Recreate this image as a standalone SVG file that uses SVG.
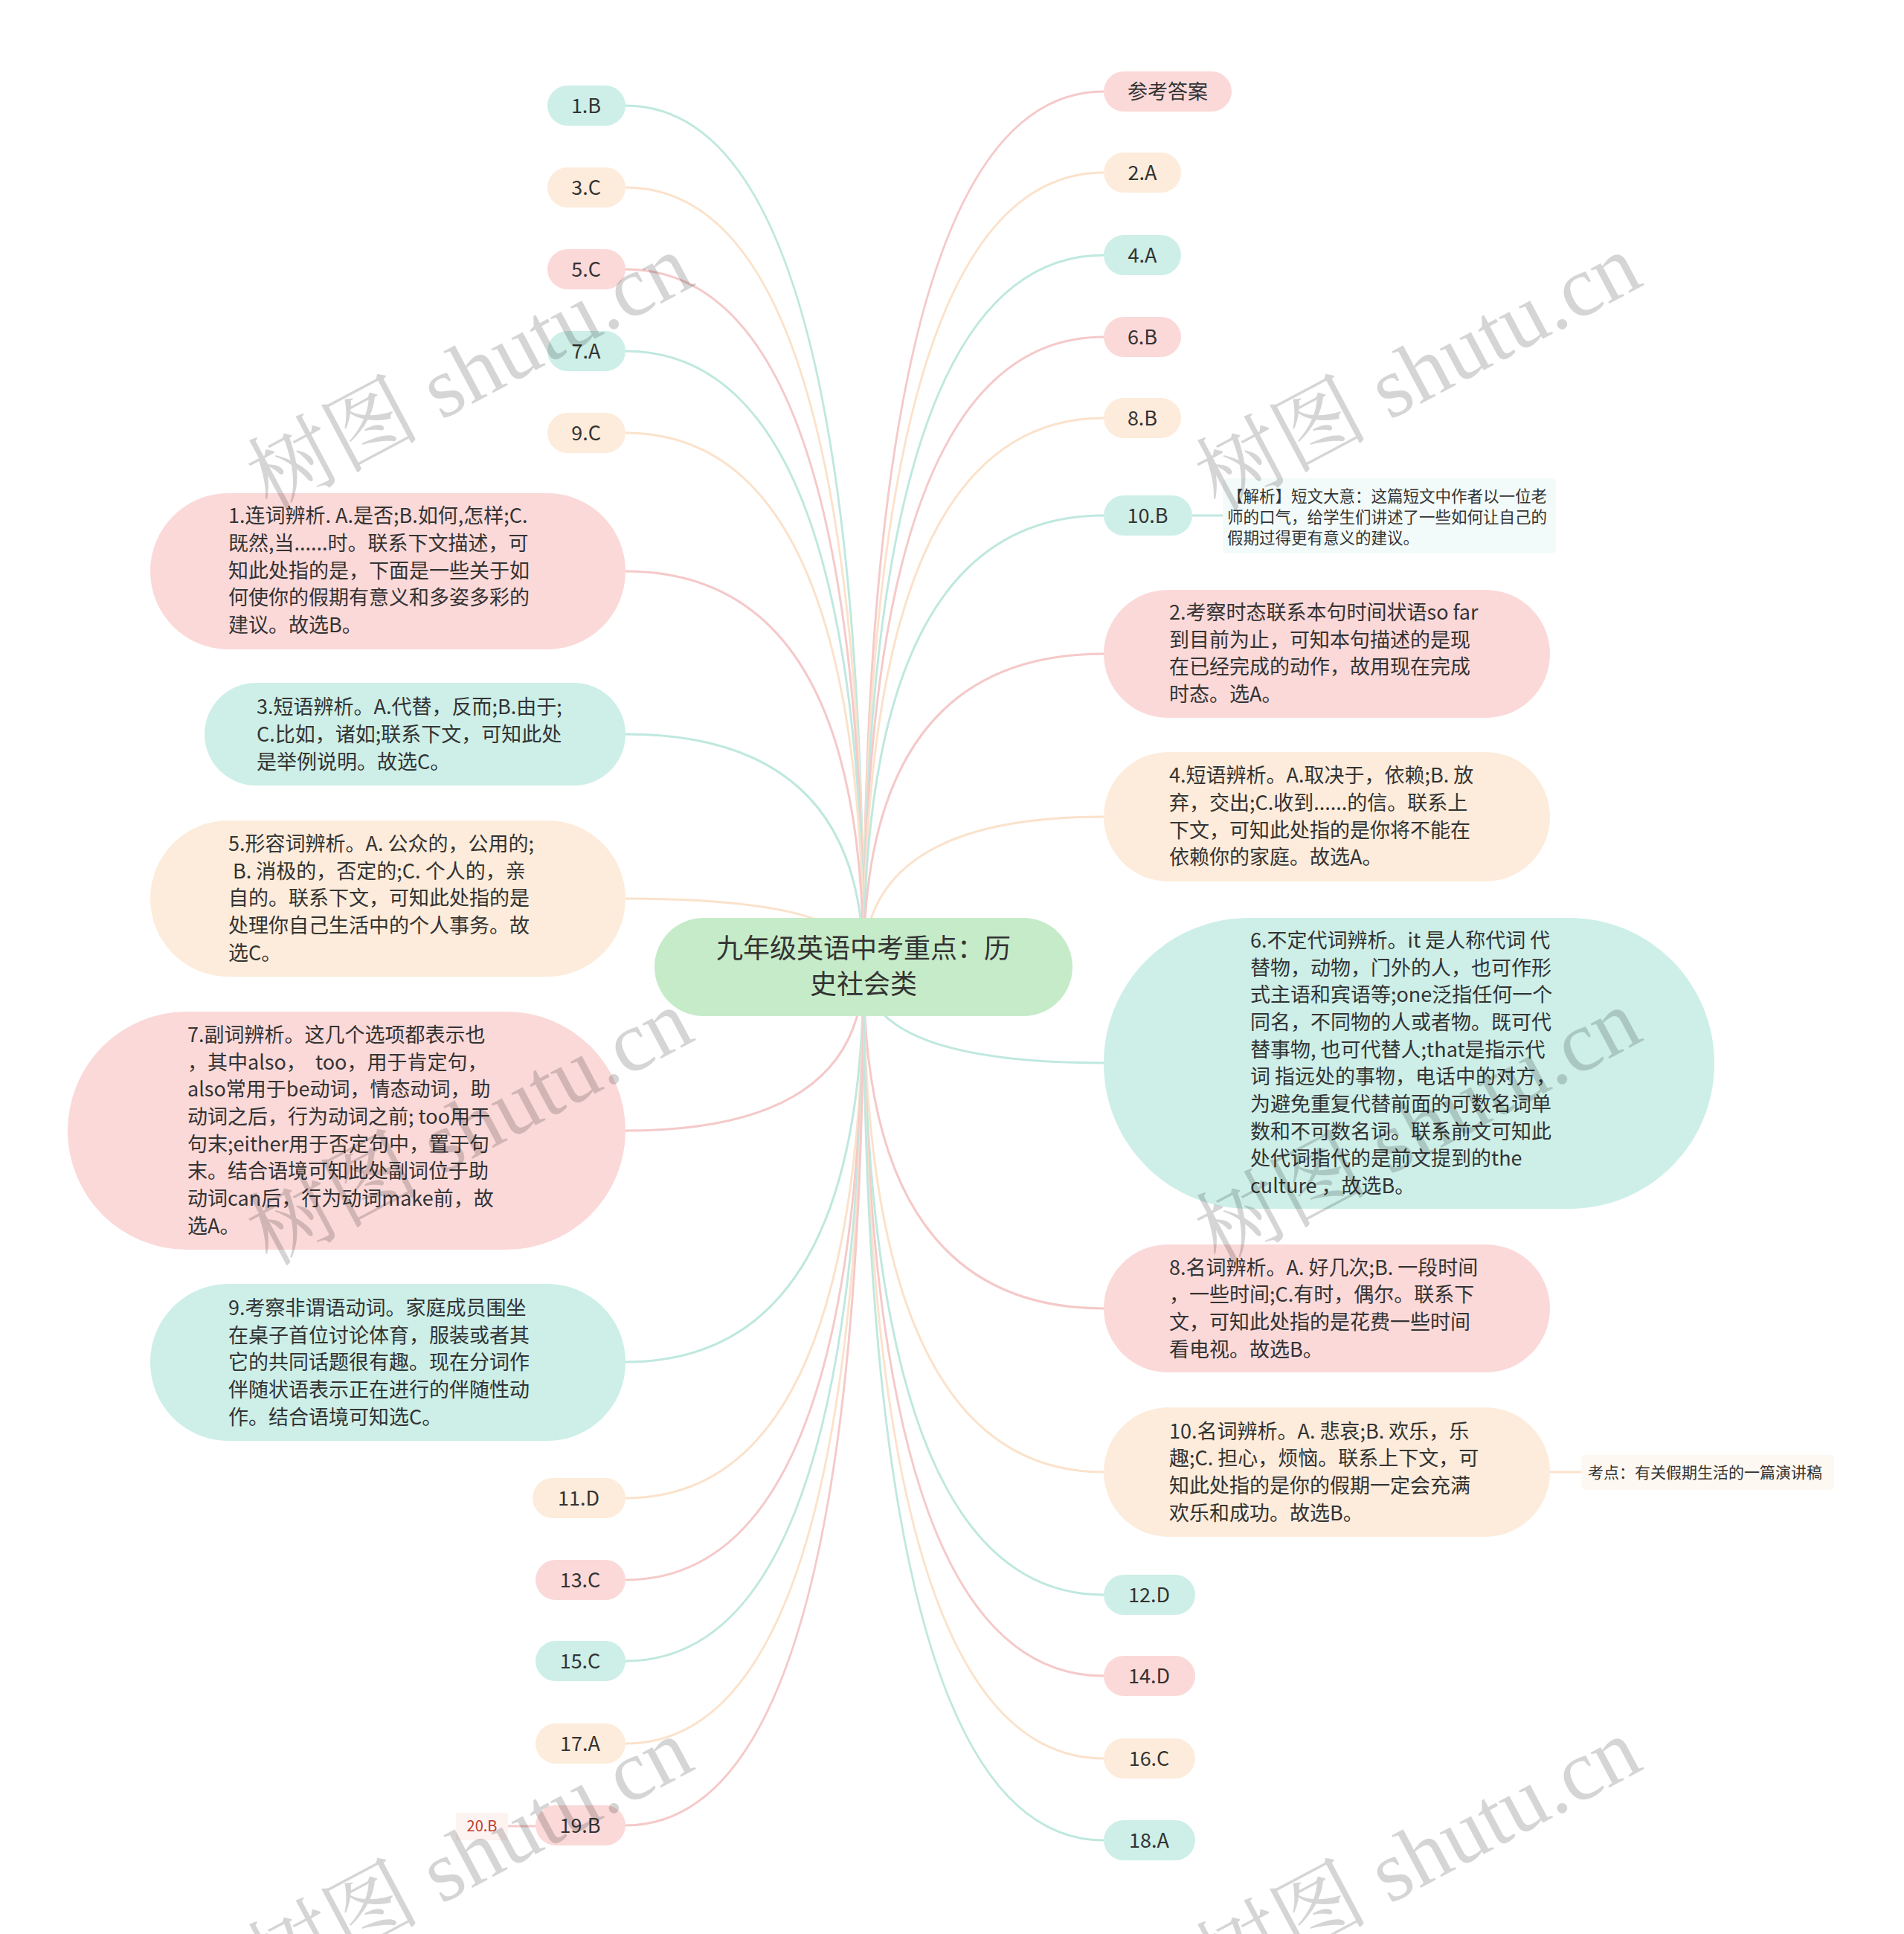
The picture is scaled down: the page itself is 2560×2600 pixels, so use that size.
<svg xmlns="http://www.w3.org/2000/svg" width="2560" height="2600" viewBox="0 0 2560 2600">
<style>
text{font-family:"Noto Sans CJK SC","Microsoft YaHei","Noto Sans",sans-serif;fill:#333;white-space:pre}
.t{font-size:27px}
.c{text-anchor:middle}
.pk{fill:#fbd9d9}.tl{fill:#cdefe8}.pc{fill:#fdecdb}
.lpk{stroke:#f5c9c9}.ltl{stroke:#bfe8df}.lpc{stroke:#fbe2cb}
#connectors path{fill:none;stroke-width:3}
.wm{font-family:"Liberation Serif","Noto Serif CJK SC",serif;font-size:116px;fill:#000;opacity:0.16;text-anchor:middle}
</style>
<rect width="2560" height="2600" fill="#ffffff"/>
<g id="connectors">
<path class="ltl" d="M1161 1300 Q1161 142 841 142"/>
<path class="lpc" d="M1161 1300 Q1161 252 841 252"/>
<path class="lpk" d="M1161 1300 Q1161 362 841 362"/>
<path class="ltl" d="M1161 1300 Q1161 472 841 472"/>
<path class="lpc" d="M1161 1300 Q1161 582 841 582"/>
<path class="lpk" d="M1161 1300 Q1161 768 841 768"/>
<path class="ltl" d="M1161 1300 Q1161 987 841 987"/>
<path class="lpc" d="M1161 1300 Q1161 1208 841 1208"/>
<path class="lpk" d="M1161 1300 Q1161 1520 841 1520"/>
<path class="ltl" d="M1161 1300 Q1161 1831 841 1831"/>
<path class="lpc" d="M1161 1300 Q1161 2014 841 2014"/>
<path class="lpk" d="M1161 1300 Q1161 2124 841 2124"/>
<path class="ltl" d="M1161 1300 Q1161 2233 841 2233"/>
<path class="lpc" d="M1161 1300 Q1161 2344 841 2344"/>
<path class="lpk" d="M1161 1300 Q1161 2454 841 2454"/>
<path class="lpk" d="M1161 1300 Q1161 123 1484 123"/>
<path class="lpc" d="M1161 1300 Q1161 232 1484 232"/>
<path class="ltl" d="M1161 1300 Q1161 343 1484 343"/>
<path class="lpk" d="M1161 1300 Q1161 453 1484 453"/>
<path class="lpc" d="M1161 1300 Q1161 562 1484 562"/>
<path class="ltl" d="M1161 1300 Q1161 693 1484 693"/>
<path class="lpk" d="M1161 1300 Q1161 879 1484 879"/>
<path class="lpc" d="M1161 1300 Q1161 1098 1484 1098"/>
<path class="ltl" d="M1161 1300 Q1161 1429 1484 1429"/>
<path class="lpk" d="M1161 1300 Q1161 1759 1484 1759"/>
<path class="lpc" d="M1161 1300 Q1161 1979 1484 1979"/>
<path class="ltl" d="M1161 1300 Q1161 2144 1484 2144"/>
<path class="lpk" d="M1161 1300 Q1161 2253 1484 2253"/>
<path class="lpc" d="M1161 1300 Q1161 2364 1484 2364"/>
<path class="ltl" d="M1161 1300 Q1161 2474 1484 2474"/>
<path class="ltl" d="M1603 693 L1644 693"/>
<path class="lpc" d="M2084 1979 L2126 1979"/>
<path class="lpk" d="M683 2455 L720 2455"/>
</g>

<g id="center">
<rect x="880" y="1234" width="562" height="132" rx="66" fill="#c6ebc9"/>
<text x="1161" y="1288" font-size="36" class="c">九年级英语中考重点：历</text>
<text x="1161" y="1336" font-size="36" class="c">史社会类</text>
</g>

<g id="n1B"><rect class="tl" x="736" y="115" width="105" height="54" rx="27"/><text class="t c" x="788" y="152">1.B</text></g>
<g id="n3C"><rect class="pc" x="736" y="225" width="105" height="54" rx="27"/><text class="t c" x="788" y="262">3.C</text></g>
<g id="n5C"><rect class="pk" x="736" y="335" width="105" height="54" rx="27"/><text class="t c" x="788" y="372">5.C</text></g>
<g id="n7A"><rect class="tl" x="736" y="445" width="105" height="54" rx="27"/><text class="t c" x="788" y="482">7.A</text></g>
<g id="n9C"><rect class="pc" x="736" y="555" width="105" height="54" rx="27"/><text class="t c" x="788" y="592">9.C</text></g>

<g id="e1">
<rect class="pk" x="202" y="663" width="639" height="210" rx="105"/>
<text class="t" x="307" y="703">1.连词辨析. A.是否;B.如何,怎样;C.</text>
<text class="t" x="307" y="740">既然,当......时。联系下文描述，可</text>
<text class="t" x="307" y="777">知此处指的是，下面是一些关于如</text>
<text class="t" x="307" y="813">何使你的假期有意义和多姿多彩的</text>
<text class="t" x="307" y="850">建议。故选B。</text>
</g>
<g id="e3">
<rect class="tl" x="275" y="918" width="566" height="138" rx="69"/>
<text class="t" x="345" y="960">3.短语辨析。A.代替，反而;B.由于;</text>
<text class="t" x="345" y="997">C.比如，诸如;联系下文，可知此处</text>
<text class="t" x="345" y="1034">是举例说明。故选C。</text>
</g>
<g id="e5">
<rect class="pc" x="202" y="1103" width="639" height="210" rx="105"/>
<text class="t" x="307" y="1144">5.形容词辨析。A. 公众的，公用的;</text>
<text class="t" x="307" y="1181"> B. 消极的，否定的;C. 个人的，亲</text>
<text class="t" x="307" y="1217">自的。联系下文，可知此处指的是</text>
<text class="t" x="307" y="1254">处理你自己生活中的个人事务。故</text>
<text class="t" x="307" y="1291">选C。</text>
</g>
<g id="e7">
<rect class="pk" x="91" y="1360" width="750" height="320" rx="160"/>
<text class="t" x="252" y="1401">7.副词辨析。这几个选项都表示也</text>
<text class="t" x="252" y="1438">，其中also，  too，用于肯定句，</text>
<text class="t" x="252" y="1474">also常用于be动词，情态动词，助</text>
<text class="t" x="252" y="1511">动词之后，行为动词之前; too用于</text>
<text class="t" x="252" y="1548">句末;either用于否定句中，置于句</text>
<text class="t" x="252" y="1584">末。结合语境可知此处副词位于助</text>
<text class="t" x="252" y="1621">动词can后，行为动词make前，故</text>
<text class="t" x="252" y="1658">选A。</text>
</g>
<g id="e9">
<rect class="tl" x="202" y="1726" width="639" height="211" rx="105"/>
<text class="t" x="307" y="1768">9.考察非谓语动词。家庭成员围坐</text>
<text class="t" x="307" y="1805">在桌子首位讨论体育，服装或者其</text>
<text class="t" x="307" y="1841">它的共同话题很有趣。现在分词作</text>
<text class="t" x="307" y="1878">伴随状语表示正在进行的伴随性动</text>
<text class="t" x="307" y="1915">作。结合语境可知选C。</text>
</g>

<g id="n11D"><rect class="pc" x="716" y="1987" width="125" height="54" rx="27"/><text class="t c" x="778" y="2024">11.D</text></g>
<g id="n13C"><rect class="pk" x="720" y="2097" width="121" height="54" rx="27"/><text class="t c" x="780" y="2134">13.C</text></g>
<g id="n15C"><rect class="tl" x="720" y="2206" width="121" height="54" rx="27"/><text class="t c" x="780" y="2243">15.C</text></g>
<g id="n17A"><rect class="pc" x="720" y="2317" width="121" height="54" rx="27"/><text class="t c" x="780" y="2354">17.A</text></g>
<g id="n19B"><rect class="pk" x="720" y="2427" width="121" height="54" rx="27"/><text class="t c" x="780" y="2464">19.B</text></g>
<g id="n20B"><rect x="613" y="2437" width="70" height="37" rx="4" fill="#fdf3f1"/><text x="648" y="2462" font-size="20" class="c" style="fill:#c0392b">20.B</text></g>

<g id="nAns"><rect class="pk" x="1484" y="96" width="172" height="54" rx="27"/><text class="t c" x="1570" y="133">参考答案</text></g>
<g id="n2A"><rect class="pc" x="1484" y="205" width="104" height="54" rx="27"/><text class="t c" x="1536" y="242">2.A</text></g>
<g id="n4A"><rect class="tl" x="1484" y="316" width="104" height="54" rx="27"/><text class="t c" x="1536" y="353">4.A</text></g>
<g id="n6B"><rect class="pk" x="1484" y="426" width="104" height="54" rx="27"/><text class="t c" x="1536" y="463">6.B</text></g>
<g id="n8B"><rect class="pc" x="1484" y="535" width="104" height="54" rx="27"/><text class="t c" x="1536" y="572">8.B</text></g>
<g id="n10B"><rect class="tl" x="1484" y="666" width="119" height="54" rx="27"/><text class="t c" x="1543" y="703">10.B</text></g>
<g id="a10B">
<rect x="1644" y="643" width="448" height="101" rx="6" fill="#f2fbf9"/>
<text x="1650" y="675" font-size="21.5">【解析】短文大意：这篇短文中作者以一位老</text>
<text x="1650" y="703" font-size="21.5">师的口气，给学生们讲述了一些如何让自己的</text>
<text x="1650" y="731" font-size="21.5">假期过得更有意义的建议。</text>
</g>

<g id="e2">
<rect class="pk" x="1484" y="793" width="600" height="172" rx="86"/>
<text class="t" x="1572" y="833">2.考察时态联系本句时间状语so far</text>
<text class="t" x="1572" y="870">到目前为止，可知本句描述的是现</text>
<text class="t" x="1572" y="906">在已经完成的动作，故用现在完成</text>
<text class="t" x="1572" y="943">时态。选A。</text>
</g>
<g id="e4">
<rect class="pc" x="1484" y="1011" width="600" height="174" rx="87"/>
<text class="t" x="1572" y="1052">4.短语辨析。A.取决于，依赖;B. 放</text>
<text class="t" x="1572" y="1089">弃，交出;C.收到......的信。联系上</text>
<text class="t" x="1572" y="1126">下文，可知此处指的是你将不能在</text>
<text class="t" x="1572" y="1162">依赖你的家庭。故选A。</text>
</g>
<g id="e6">
<rect class="tl" x="1484" y="1234" width="821" height="391" rx="195"/>
<text class="t" x="1681" y="1274">6.不定代词辨析。it 是人称代词 代</text>
<text class="t" x="1681" y="1311">替物，动物，门外的人，也可作形</text>
<text class="t" x="1681" y="1347">式主语和宾语等;one泛指任何一个</text>
<text class="t" x="1681" y="1384">同名，不同物的人或者物。既可代</text>
<text class="t" x="1681" y="1421">替事物, 也可代替人;that是指示代</text>
<text class="t" x="1681" y="1457">词 指远处的事物，电话中的对方，</text>
<text class="t" x="1681" y="1494">为避免重复代替前面的可数名词单</text>
<text class="t" x="1681" y="1531">数和不可数名词。联系前文可知此</text>
<text class="t" x="1681" y="1567">处代词指代的是前文提到的the</text>
<text class="t" x="1681" y="1604">culture ，故选B。</text>
</g>
<g id="e8">
<rect class="pk" x="1484" y="1673" width="600" height="172" rx="86"/>
<text class="t" x="1572" y="1714">8.名词辨析。A. 好几次;B. 一段时间</text>
<text class="t" x="1572" y="1750">，一些时间;C.有时，偶尔。联系下</text>
<text class="t" x="1572" y="1787">文，可知此处指的是花费一些时间</text>
<text class="t" x="1572" y="1824">看电视。故选B。</text>
</g>
<g id="e10">
<rect class="pc" x="1484" y="1892" width="600" height="174" rx="87"/>
<text class="t" x="1572" y="1934">10.名词辨析。A. 悲哀;B. 欢乐，乐</text>
<text class="t" x="1572" y="1970">趣;C. 担心，烦恼。联系上下文，可</text>
<text class="t" x="1572" y="2007">知此处指的是你的假期一定会充满</text>
<text class="t" x="1572" y="2044">欢乐和成功。故选B。</text>
</g>
<g id="a10">
<rect x="2126" y="1956" width="340" height="47" rx="6" fill="#fdf8f2"/>
<text x="2135" y="1987" font-size="21">考点：有关假期生活的一篇演讲稿</text>
</g>

<g id="n12D"><rect class="tl" x="1484" y="2117" width="123" height="54" rx="27"/><text class="t c" x="1545" y="2154">12.D</text></g>
<g id="n14D"><rect class="pk" x="1484" y="2226" width="123" height="54" rx="27"/><text class="t c" x="1545" y="2263">14.D</text></g>
<g id="n16C"><rect class="pc" x="1484" y="2337" width="123" height="54" rx="27"/><text class="t c" x="1545" y="2374">16.C</text></g>
<g id="n18A"><rect class="tl" x="1484" y="2447" width="123" height="54" rx="27"/><text class="t c" x="1545" y="2484">18.A</text></g>

<g id="watermarks">
<text class="wm" transform="translate(650 535) rotate(-28)">树图 shutu.cn</text>
<text class="wm" transform="translate(1925 535) rotate(-28)">树图 shutu.cn</text>
<text class="wm" transform="translate(650 1550) rotate(-28)">树图 shutu.cn</text>
<text class="wm" transform="translate(1925 1550) rotate(-28)">树图 shutu.cn</text>
<text class="wm" transform="translate(650 2530) rotate(-28)">树图 shutu.cn</text>
<text class="wm" transform="translate(1925 2530) rotate(-28)">树图 shutu.cn</text>
</g>
</svg>
